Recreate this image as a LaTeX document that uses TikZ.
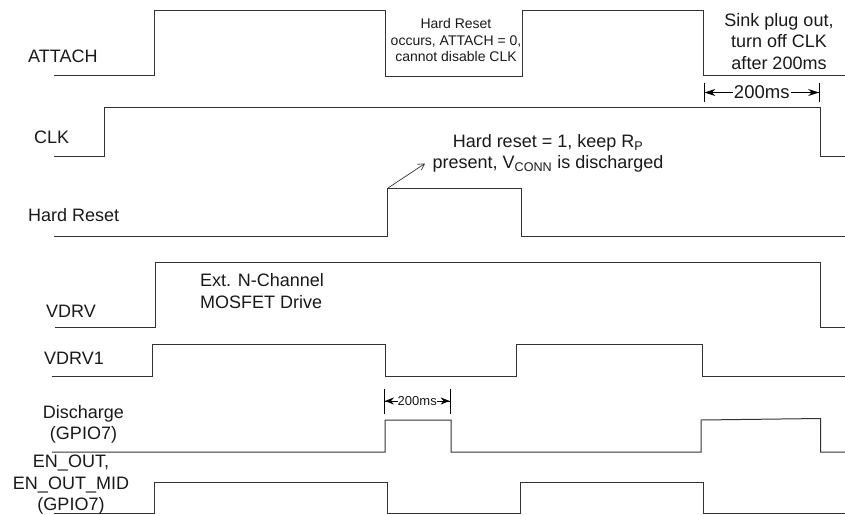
\documentclass[tikz,border=0pt]{standalone}
\usepackage{fontspec}
\setmainfont{Liberation Sans}
\usetikzlibrary{arrows.meta}
\tikzset{
  trace/.style={line width=1pt,black!80,line join=miter},
  lab/.style={font=\fontsize{18}{21.5}\selectfont,align=center,inner sep=0pt,text=black!90},
  smalllab/.style={font=\fontsize{14}{16.5}\selectfont,align=center,inner sep=0pt,text=black!90},
  dimtext/.style={fill=white,inner xsep=1pt,inner ysep=0pt,text=black!90}
}
\begin{document}
\begin{tikzpicture}[x=1pt,y=-1pt]
\useasboundingbox (0,0) rectangle (845,514);
% traces
\draw[trace] (54,75)--(154.5,75)--(154.5,10)--(385,10)--(385,76)--(522,76)--(522,10)--(703,10)--(703,75)--(845,75);
\draw[trace] (54,156)--(104.5,156)--(104.5,107.5)--(820,107.5)--(820,156)--(845,156);
\draw[trace] (54,236.5)--(387.5,236.5)--(387.5,188)--(521,188)--(521,236.5)--(845,236.5);
\draw[trace] (55,327)--(155,327)--(155,262)--(820,262)--(820,327)--(845,327);
\draw[trace] (52,376)--(152.5,376)--(152.5,344)--(385,344)--(385,376)--(516.5,376)--(516.5,344)--(702,344)--(702,376)--(845,376);
\draw[trace] (52,452)--(385,452)--(385,420)--(451,420)--(451,452)--(701,452)--(701,420)--(820.5,418.5)--(820.5,452)--(845,452);
\draw[trace] (54,513)--(154,513)--(154,482)--(387,482)--(387,513)--(520,513)--(520,482)--(703,482)--(703,513)--(845,513);
% signal labels
\node[lab,anchor=base west] (attach) at (28,62.5) {ATTACH};
\node[lab,anchor=base west] (clk) at (34,143) {CLK};
\node[lab,anchor=base west] (hr) at (28,221.5) {Hard Reset};
\node[lab,anchor=base west] (vdrv) at (46,317) {VDRV};
\node[lab,anchor=base west] (vdrv1) at (44,364) {VDRV1};
\node[lab] (dis) at (83.5,424.5) {Discharge\\(GPIO7)};
\node[lab] (en) at (71,485) {EN\_OUT,\\EN\_OUT\_MID\\(GPIO7)};
% annotations
\node[smalllab] (hrnote) at (456,40) {Hard Reset\\occurs, ATTACH = 0,\\cannot disable CLK};
\node[lab] (sink) at (779,41.5) {Sink plug out,\\turn off CLK\\after 200ms};
\node[lab] (note) at (548,153.5) {Hard reset = 1, keep R\textsubscript{P}\\present, V\textsubscript{CONN} is discharged};
\node[lab,anchor=base west] (mos) at (200,286.5) {Ext. N-Channel};
\node[lab,anchor=base west] (mos2) at (200,308) {MOSFET Drive};
% dimensions
\coordinate (d1a) at (703.5,92.5); \coordinate (d1b) at (820,92.5);
\draw[line width=0.9pt,black,{Bar[width=19pt]Stealth[length=11pt,width=7pt]}-{Stealth[length=11pt,width=7pt]Bar[width=19pt]}] (d1a)--(d1b) node[midway,dimtext,font=\fontsize{18.5}{18.5}\selectfont] (d1t) {200ms};
\coordinate (d2a) at (384,401); \coordinate (d2b) at (450.5,401);
\draw[line width=0.9pt,black,{Bar[width=25pt]Stealth[length=9pt,width=7pt]}-{Stealth[length=9pt,width=7pt]Bar[width=25pt]}] (d2a)--(d2b) node[midway,dimtext,inner xsep=0pt,font=\fontsize{13}{13}\selectfont] (d2t) {200ms};
% arrow
\coordinate (a1) at (388,188); \coordinate (a2) at (425,163.5);
\draw[line width=0.7pt,black!80,-{Straight Barb[length=6pt,width=7pt]}] (a1)--(a2);
\end{tikzpicture}
\end{document}
